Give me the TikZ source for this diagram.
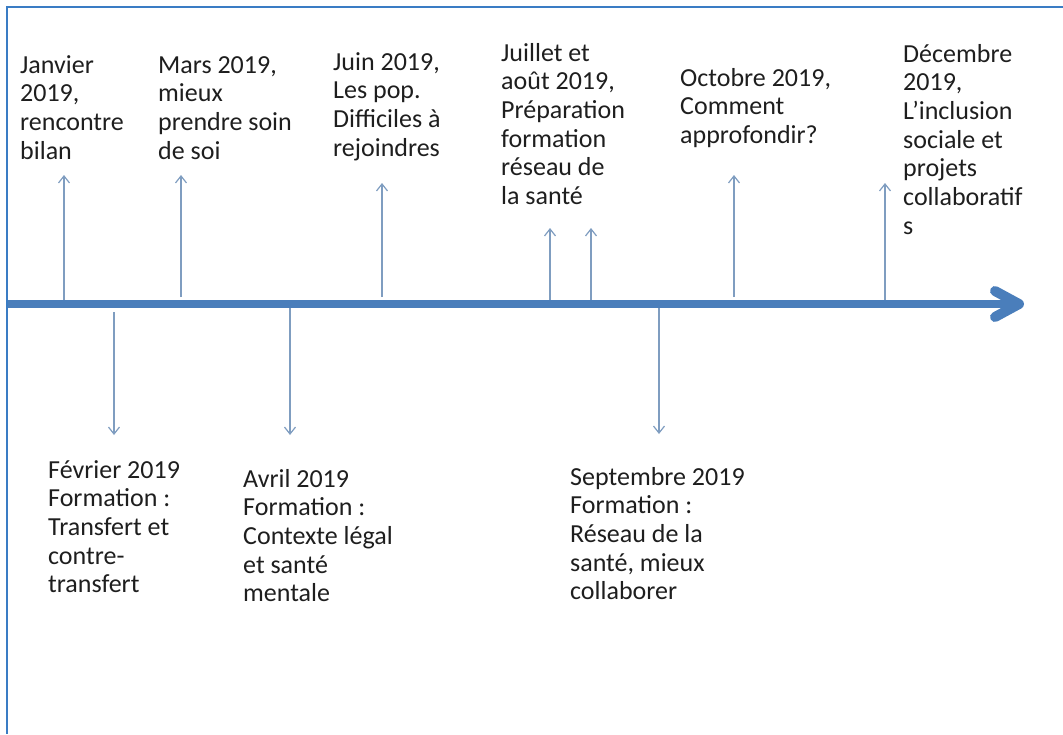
\documentclass[tikz,border=0pt]{standalone}
\usepackage{fontspec}
\setmainfont{Carlito}
\usetikzlibrary{arrows.meta}
\definecolor{frameblue}{HTML}{3A7CC4}
\definecolor{axisblue}{HTML}{4A7EBB}
\definecolor{tickblue}{HTML}{7F9DC0}
\definecolor{txt}{HTML}{1E1E1E}
\newcommand{\mytl}[1]{\begin{tabular}[t]{@{}l@{}}#1\end{tabular}}
\tikzset{
  lbl/.style={anchor=base west, inner sep=0pt, text=txt, font=\fontsize{26}{28.7}\selectfont},
  tick/.style={draw=tickblue, line width=1.3pt, -{Straight Barb[length=7pt,width=11pt,line width=1.2pt]}},
  axisline/.style={draw=axisblue, line width=8pt},
  axishead/.style={draw=axisblue, line width=10pt, line cap=round, line join=round},
  framestyle/.style={draw=frameblue, line width=2.5pt}
}
\begin{document}
\begin{tikzpicture}[x=1pt,y=-1pt]
\useasboundingbox (0,0) rectangle (1063,734);
% frame (top and left only)
\draw[framestyle] (1063,7) -- (7,7) -- (7,734);
% axis
\coordinate (axL) at (8,304);
\coordinate (axR) at (1016,304);
\coordinate (hdU) at (995,291);
\coordinate (hdT) at (1019,304);
\coordinate (hdD) at (995,317);
\draw[axisline] (axL) -- (axR);
\draw[axishead] (hdU) -- (hdT) -- (hdD);
% labels above
\node[lbl] (jan) at (20,73)  {\mytl{Janvier\\2019,\\rencontre\\bilan}};
\node[lbl] (mar) at (158,73) {\mytl{Mars 2019,\\mieux\\prendre soin\\de soi}};
\node[lbl] (jun) at (333,70) {\mytl{Juin 2019,\\Les pop.\\Difficiles à\\rejoindres}};
\node[lbl] (jul) at (501,61) {\mytl{Juillet et\\août 2019,\\Préparation\\formation\\réseau de\\la santé}};
\node[lbl] (oct) at (680,86) {\mytl{Octobre 2019,\\Comment\\approfondir?}};
\node[lbl] (dec) at (903,62) {\mytl{Décembre\\2019,\\L’inclusion\\sociale et\\projets\\collaboratif\\s}};
% labels below
\node[lbl] (fev) at (48,478)  {\mytl{Février 2019\\Formation :\\Transfert et\\contre-\\transfert}};
\node[lbl] (avr) at (243,487) {\mytl{Avril 2019\\Formation :\\Contexte légal\\et santé\\mentale}};
\node[lbl] (sep) at (570,485) {\mytl{Septembre 2019\\Formation :\\Réseau de la\\santé, mieux\\collaborer}};
% tick arrows: up
\coordinate (janB) at (64,300);  \coordinate (janT) at (64,175);
\coordinate (marB) at (181,297); \coordinate (marT) at (181,175);
\coordinate (junB) at (382,297); \coordinate (junT) at (382,183);
\coordinate (julB) at (550,300); \coordinate (julT) at (550,228);
\coordinate (aouB) at (591,300); \coordinate (aouT) at (591,228);
\coordinate (octB) at (734,297); \coordinate (octT) at (734,175);
\coordinate (decB) at (885,300); \coordinate (decT) at (885,183);
\draw[tick] (janB) -- (janT);
\draw[tick] (marB) -- (marT);
\draw[tick] (junB) -- (junT);
\draw[tick] (julB) -- (julT);
\draw[tick] (aouB) -- (aouT);
\draw[tick] (octB) -- (octT);
\draw[tick] (decB) -- (decT);
% tick arrows: down
\coordinate (fevT) at (114,312); \coordinate (fevD) at (114,435);
\coordinate (avrT) at (290,308); \coordinate (avrD) at (290,435);
\coordinate (sepT) at (659,308); \coordinate (sepD) at (659,434);
\draw[tick] (fevT) -- (fevD);
\draw[tick] (avrT) -- (avrD);
\draw[tick] (sepT) -- (sepD);
\end{tikzpicture}
\end{document}
